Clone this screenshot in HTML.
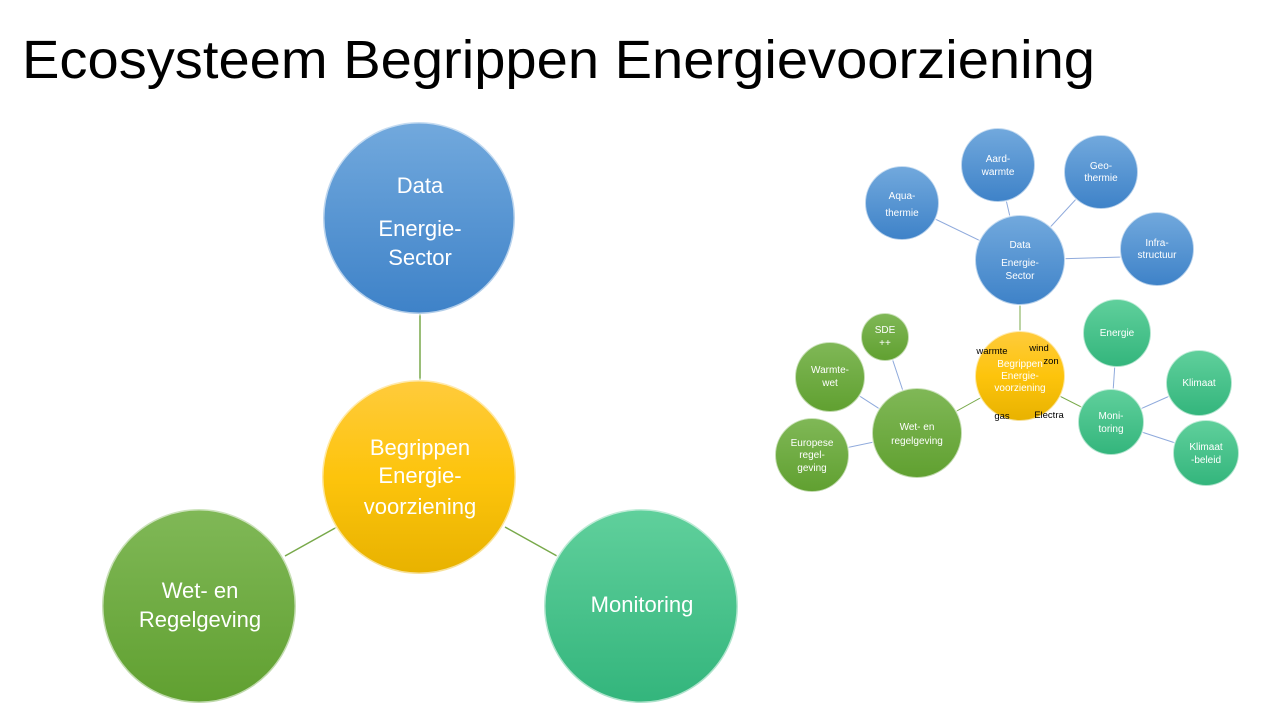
<!DOCTYPE html>
<html><head><meta charset="utf-8"><style>
html,body{margin:0;padding:0;background:#fff;width:1262px;height:714px;overflow:hidden}
svg{display:block}
text{font-family:"Liberation Sans",sans-serif;fill:#fff;text-anchor:middle}
</style></head><body>
<svg width="1262" height="714" viewBox="0 0 1262 714">
<defs>
<linearGradient id="b" x1="0" y1="0" x2="0" y2="1"><stop offset="0" stop-color="#72a9dd"/><stop offset="1" stop-color="#3e82c8"/></linearGradient>
<linearGradient id="y" x1="0" y1="0" x2="0" y2="1"><stop offset="0" stop-color="#ffcb3c"/><stop offset="0.5" stop-color="#fdc40c"/><stop offset="1" stop-color="#e8b200"/></linearGradient>
<linearGradient id="g" x1="0" y1="0" x2="0" y2="1"><stop offset="0" stop-color="#80b857"/><stop offset="1" stop-color="#60a030"/></linearGradient>
<linearGradient id="t" x1="0" y1="0" x2="0" y2="1"><stop offset="0" stop-color="#60d09c"/><stop offset="1" stop-color="#33b57c"/></linearGradient>
</defs>
<text x="22" y="78" style="fill:#000;text-anchor:start;font-size:54px" textLength="1073" lengthAdjust="spacingAndGlyphs">Ecosysteem Begrippen Energievoorziening</text>

<!-- left diagram -->
<g stroke="#78a94a" stroke-width="1.5">
<line x1="420" y1="314" x2="420" y2="380"/>
<line x1="337" y1="527" x2="285" y2="556"/>
<line x1="505" y1="527" x2="557" y2="556"/>
</g>
<g stroke="#ffffff" stroke-width="3" stroke-opacity="0.6">
<circle cx="419" cy="218" r="96" fill="url(#b)"/>
<circle cx="419" cy="477" r="97" fill="url(#y)"/>
<circle cx="199" cy="606" r="97" fill="url(#g)"/>
<circle cx="641" cy="606" r="97" fill="url(#t)"/>
</g>
<g style="font-size:22px">
<text x="420" y="193">Data</text>
<text x="420" y="236">Energie-</text>
<text x="420" y="265">Sector</text>
<text x="420" y="455">Begrippen</text>
<text x="420" y="483">Energie-</text>
<text x="420" y="514">voorziening</text>
<text x="200" y="598">Wet- en</text>
<text x="200" y="627">Regelgeving</text>
<text x="642" y="612">Monitoring</text>
</g>

<!-- right diagram -->
<g stroke="#8faadc" stroke-width="1">
<line x1="902" y1="203" x2="1020" y2="260"/>
<line x1="998" y1="165" x2="1020" y2="260"/>
<line x1="1101" y1="172" x2="1020" y2="260"/>
<line x1="1157" y1="256" x2="1020" y2="260"/>
<line x1="885" y1="337" x2="917" y2="433"/>
<line x1="830" y1="377" x2="917" y2="433"/>
<line x1="812" y1="455" x2="917" y2="433"/>
<line x1="1117" y1="333" x2="1111" y2="422"/>
<line x1="1199" y1="383" x2="1111" y2="422"/>
<line x1="1206" y1="453" x2="1111" y2="422"/>
</g>
<g stroke="#78a94a" stroke-width="1">
<line x1="1020" y1="300" x2="1020" y2="336"/>
<line x1="917" y1="433" x2="1020" y2="376"/>
<line x1="1111" y1="422" x2="1020" y2="376"/>
</g>
<g stroke="#ffffff" stroke-width="2" stroke-opacity="0.6">
<circle cx="1020" cy="260" r="45" fill="url(#b)"/>
<circle cx="902" cy="203" r="37" fill="url(#b)"/>
<circle cx="998" cy="165" r="37" fill="url(#b)"/>
<circle cx="1101" cy="172" r="37" fill="url(#b)"/>
<circle cx="1157" cy="249" r="37" fill="url(#b)"/>
<circle cx="1020" cy="376" r="45" fill="url(#y)"/>
<circle cx="917" cy="433" r="45" fill="url(#g)"/>
<circle cx="885" cy="337" r="24" fill="url(#g)"/>
<circle cx="830" cy="377" r="35" fill="url(#g)"/>
<circle cx="812" cy="455" r="37" fill="url(#g)"/>
<circle cx="1117" cy="333" r="34" fill="url(#t)"/>
<circle cx="1111" cy="422" r="33" fill="url(#t)"/>
<circle cx="1199" cy="383" r="33" fill="url(#t)"/>
<circle cx="1206" cy="453" r="33" fill="url(#t)"/>
</g>
<g style="font-size:10px">
<text x="1020" y="248">Data</text>
<text x="1020" y="266">Energie-</text>
<text x="1020" y="279">Sector</text>
<text x="902" y="199">Aqua-</text>
<text x="902" y="216">thermie</text>
<text x="998" y="162">Aard-</text>
<text x="998" y="175">warmte</text>
<text x="1101" y="169">Geo-</text>
<text x="1101" y="181">thermie</text>
<text x="1157" y="246">Infra-</text>
<text x="1157" y="258">structuur</text>
<text x="1020" y="367">Begrippen</text>
<text x="1020" y="379">Energie-</text>
<text x="1020" y="391">voorziening</text>
<text x="917" y="430">Wet- en</text>
<text x="917" y="444">regelgeving</text>
<text x="885" y="333">SDE</text>
<text x="885" y="346">++</text>
<text x="830" y="373">Warmte-</text>
<text x="830" y="386">wet</text>
<text x="812" y="446">Europese</text>
<text x="812" y="458">regel-</text>
<text x="812" y="471">geving</text>
<text x="1117" y="336">Energie</text>
<text x="1111" y="419">Moni-</text>
<text x="1111" y="432">toring</text>
<text x="1199" y="386">Klimaat</text>
<text x="1206" y="450">Klimaat</text>
<text x="1206" y="463">-beleid</text>
</g>
<g style="font-size:9.5px">
<text x="992" y="354" style="fill:#000">warmte</text>
<text x="1039" y="351" style="fill:#000">wind</text>
<text x="1051" y="364" style="fill:#000">zon</text>
<text x="1002" y="419" style="fill:#000">gas</text>
<text x="1049" y="418" style="fill:#000">Electra</text>
</g>
</svg>
</body></html>
